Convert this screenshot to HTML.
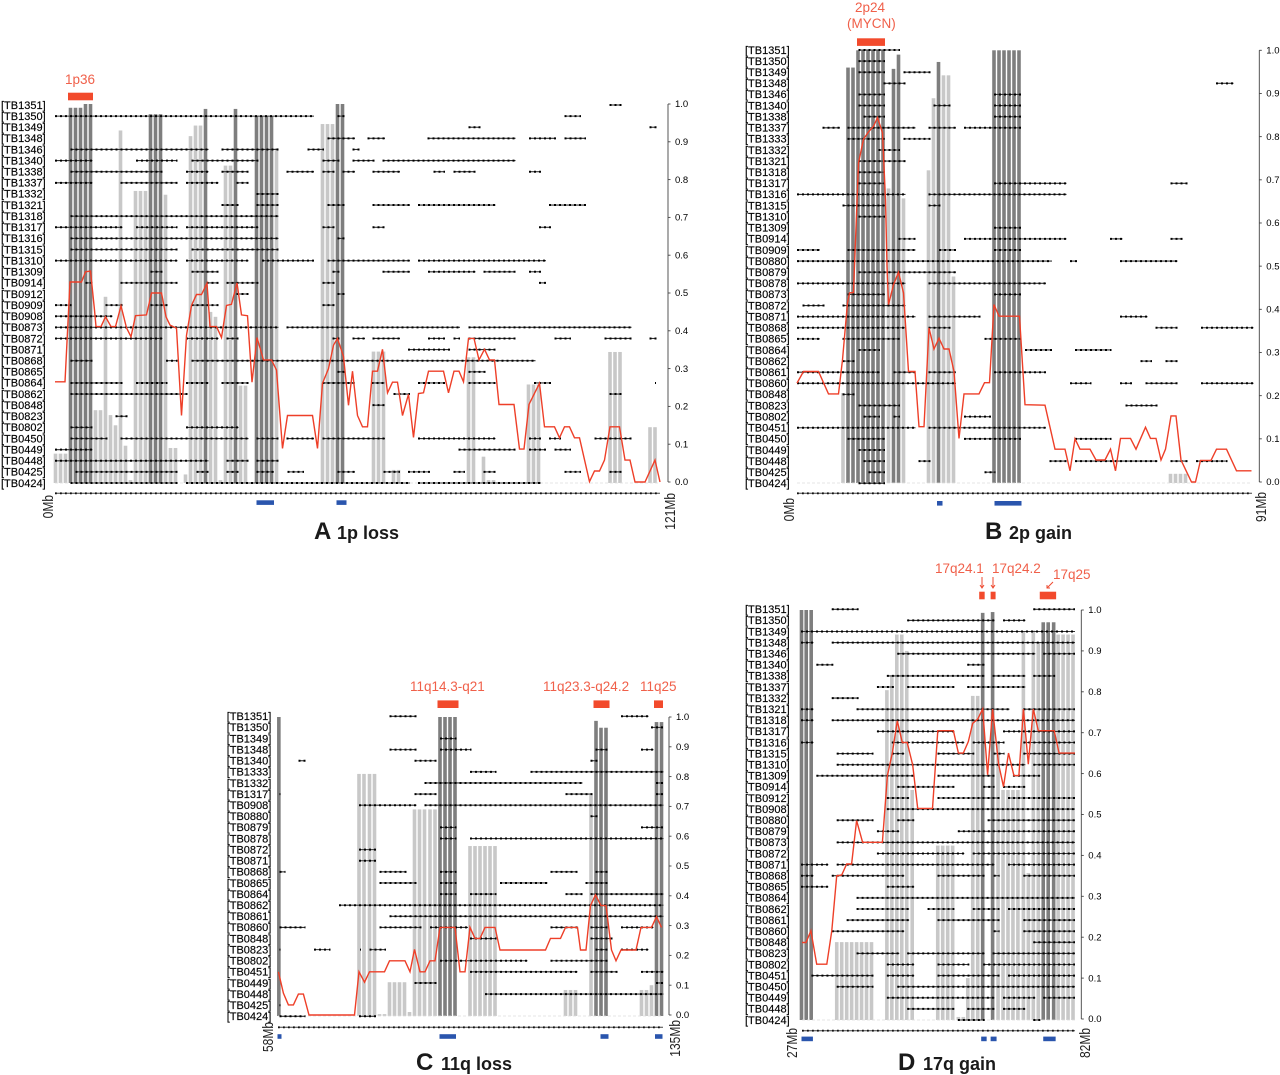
<!DOCTYPE html>
<html lang="en">
<head>
<meta charset="utf-8">
<title>Chromosome region frequency charts</title>
<style>
html,body{margin:0;padding:0;background:#fff;}
svg{display:block;font-family:"Liberation Sans",sans-serif;}
</style>
</head>
<body>
<svg id="figure" width="1280" height="1075" viewBox="0 0 1280 1075" xmlns="http://www.w3.org/2000/svg">
<rect width="1280" height="1075" fill="#fff"/>
<g fill="#1a1a1a" font-weight="bold">
<text x="314" y="539" font-size="24">A</text>
<text x="337" y="539" font-size="18">1p loss</text>
<text x="985" y="539" font-size="24">B</text>
<text x="1009" y="539" font-size="18">2p gain</text>
<text x="416" y="1070" font-size="24">C</text>
<text x="441" y="1070" font-size="18">11q loss</text>
<text x="898" y="1070" font-size="24">D</text>
<text x="923" y="1070" font-size="18">17q gain</text>
</g>
<g fill="#f0604a" font-size="13.5">
<text x="65" y="84">1p36</text>
<text x="855" y="12">2p24</text>
<text x="847" y="28">(MYCN)</text>
<text x="410" y="691">11q14.3-q21</text>
<text x="543" y="691">11q23.3-q24.2</text>
<text x="640" y="691">11q25</text>
<text x="935" y="573">17q24.1</text>
<text x="992" y="573">17q24.2</text>
<text x="1053" y="579">17q25</text>
</g>
<g stroke="#ee4a30" stroke-width="1" fill="none">
<path d="M982 577V588M980 585L982 588L984 585"/>
<path d="M993 577V588M991 585L993 588L995 585"/>
<path d="M1053 582L1047 588M1047 585L1047 588L1050 588"/>
</g>
<g id="plots"></g>
</svg>
<script>
/* ---------- Panel A: 1p loss ---------- */
const aSamples = ["TB1351","TB1350","TB1349","TB1348","TB1346","TB1340","TB1338","TB1337","TB1332","TB1321","TB1318","TB1317","TB1316","TB1315","TB1310","TB1309","TB0914","TB0912","TB0909","TB0908","TB0873","TB0872","TB0871","TB0868","TB0865","TB0864","TB0862","TB0848","TB0823","TB0802","TB0450","TB0449","TB0448","TB0425","TB0424"];
const aSpans = [
[110.9,113.3],
[0,51.8,56.5,57.9,101.9,105.2],
[82.7,85.1,118.9,120.3],
[54.5,60,62.5,66,74.5,92.1,94.8,100.2,101.9,106.2],
[3.1,30.7,33.3,44.7,50.5,53.8,59.5,60.9],
[0,7.5,16.2,24.5,27.3,40.7,53.5,56.9,59.5,63.9,65.5,92.1],
[3.1,21.5,26.2,30.7,33.3,38.7,46.3,51.8,53.5,55.9,57.5,60,63.5,69,75.7,78,79.7,84.1,94.8,97.2],
[0,7.5,13.1,24.5,26.2,32.7,36.3,38.7],
[40.3,44.7],
[33.3,36.7,40.3,44.7,54.5,57.9,63.5,71,72.6,88.1,98.8,106.2],
[3.1,44.7],
[0,13.5,16.2,24.5,26.2,40.7,53.5,55.9,63.5,65.9,96.8,99.2],
[3.1,44.7,56.5,57.9],
[3.1,24.5,27.3,44.7],
[0,24.5,26.2,38.7,41.4,51.8,54.5,71,72.6,98.2],
[19.1,21.5,27.3,32.7,55.5,56.9,65.5,71,74.6,84.1,85.7,92.1,94.8,97.2],
[6.1,7.5,13.1,24.5,30.3,32.7,34.3,40.7,53.5,55.9,96.8,98.2],
[36.3,38.7,56.5,57.9],
[0,3.3,10.1,13.5,19.1,22.5,27.3,32.7,53.5,55.9],
[0,11.5],
[0,44.7,46.3,81,82.7,115.3],
[0,21.5,26.2,32.7,34.3,36.7,55.5,56.9,59.5,62,63.5,69,74.6,78,79.7,81,82.7,92.1,99.9,103.2,109.9,115.3,118.9,120.3],
[70.6,79,82.7,88.1],
[3.1,7.5,22.2,24.5,27.3,96.1],
[56.5,57.9,82.7,86.1],
[3.1,13.5,16.2,22.5,26.2,30.7,33.3,38.7,53.5,60,63.3,65.9,72.6,78,82.7,88.1,95.8,99.2,120,120.2],
[3.1,26.5,67.7,71,110.9,113.3],
[63.5,65.9],
[12.1,14.5],
[3.1,7.5,26.2,36.7],
[3.1,10.5,13.1,38.7,40.3,44.7,46.3,51.8,53.5,66,72.6,88.1,94.8,97.2,98.8,101.2,107.9,115.3],
[0,7.5,80.7,92.1,94.8,98.2,99.9,103.2],
[0,30.7,34.3,38.7,40.3,44.7],
[4.1,24.5,28.3,30.7,34.3,36.7,40.3,43.8,46.5,49.8,56.5,60,65.7,69,70.6,75,79.7,82,85.7,88.1,101.9,105.2,110.9,113.3],
[3.1,24.5,26.2,71,72.6,97.2]
];
const aBarPos = [0.1,1.1,2.1,3.1,4.1,5.1,6.1,7.1,8.1,9.1,10.1,11.1,12.1,13.1,14.1,15.1,16.1,17.1,18.1,19.1,20.1,21.1,22.1,23.1,24.1,26.1,27.1,28.1,29.1,30.1,31.1,32.1,33.1,34.1,35.1,36.1,37.1,38.1,40.3,41.3,42.3,43.3,44.3,53.5,54.5,55.5,56.5,57.5,63.7,64.7,65.7,67.7,68.7,82.7,83.7,85.7,86.7,87.7,94.7,95.7,96.7,111,112,113,119,120];
const aBarVal = [0.075,0.075,0.075,0.99,0.99,0.99,1,1,0.19,0.19,0.49,0.177,0.15,0.93,0.096,0.005,0.77,0.77,0.77,0.973,0.973,0.973,0.76,0.09,0.09,0.02,0.915,0.943,0.943,0.987,0.45,0.437,0.005,0.837,0.837,0.987,0.255,0.255,0.968,0.968,0.968,0.968,0.883,0.947,0.947,0.947,1,1,0.345,0.345,0.345,0.032,0.032,0.33,0.33,0.067,0.005,0.005,0.258,0.258,0.258,0.344,0.344,0.344,0.145,0.145];
const aBarSig = [0,0,0,1,1,1,1,1,0,0,0,0,0,0,0,0,0,0,0,1,1,1,0,0,0,0,0,0,0,1,0,0,0,0,0,1,0,0,1,1,1,1,0,0,0,0,1,1,0,0,0,0,0,0,0,0,0,0,0,0,0,0,0,0,0,0];
const aLineMb = [0,2,3,5.3,6.1,7.1,7.9,8.2,9.2,10.1,11.2,12.1,13.2,14.3,15.2,16.1,18.3,19.3,21.3,22.2,23,24.3,25.3,26.3,27.3,28.3,29.3,30.4,31,32.3,33.3,34.3,35.3,36.4,37.3,38.5,39.4,40.4,41.7,43.3,44.3,45.5,46.5,51.5,52.5,53.5,54.7,55.7,56.5,57.7,58.7,59,59.5,60.5,61.5,62.5,63.5,64.5,65.5,66.5,67.5,68.5,69.5,70.7,71.7,72.7,73.7,74.7,77.7,78.7,79.8,80.8,81.7,82.7,83.8,84.8,85.9,86.9,87.9,88.8,91.8,92.9,93.8,94.8,96.9,97.9,99.9,100.9,101.9,102.9,103.9,104.9,106.9,107.9,108.9,109.9,111,112.9,114,115,116,118,120,121];
const aLineFreq = [0.265,0.265,0.529,0.529,0.556,0.558,0.455,0.411,0.411,0.437,0.411,0.411,0.466,0.408,0.384,0.44,0.442,0.5,0.5,0.437,0.415,0.407,0.176,0.388,0.467,0.496,0.496,0.526,0.411,0.411,0.382,0.467,0.47,0.527,0.442,0.44,0.264,0.382,0.323,0.323,0.296,0.089,0.176,0.176,0.089,0.261,0.3,0.362,0.38,0.332,0.203,0.238,0.293,0.176,0.146,0.146,0.293,0.293,0.351,0.236,0.264,0.264,0.176,0.232,0.118,0.234,0.236,0.293,0.293,0.236,0.293,0.293,0.265,0.38,0.38,0.323,0.351,0.323,0.323,0.205,0.205,0.087,0.087,0.205,0.261,0.146,0.146,0.117,0.146,0.146,0.117,0.117,0.001,0.029,0.029,0.058,0.146,0.146,0.058,0.058,0,0,0.058,0];
const aPeaks = [[2.6,7.6]];
const aSignificant = [[40.3,43.8],[56.3,58.3]];

/* ---------- Panel B: 2p gain ---------- */
const bSamples = ["TB1351","TB1350","TB1349","TB1348","TB1346","TB1340","TB1338","TB1337","TB1333","TB1332","TB1321","TB1318","TB1317","TB1316","TB1315","TB1310","TB1309","TB0914","TB0909","TB0880","TB0879","TB0878","TB0873","TB0872","TB0871","TB0868","TB0865","TB0864","TB0862","TB0861","TB0860","TB0848","TB0823","TB0802","TB0451","TB0450","TB0449","TB0448","TB0425","TB0424"];
const bSpans = [
[12.3,20.6],
[12.3,17.6],
[12.3,17.6,21.3,26.7],
[17.3,21.7,83.8,87.3],
[12.3,17.6,39.4,44.8],
[12.3,17.6,27.3,30.7,39.4,44.8],
[13.3,17.6,39.4,44.8],
[5.1,8.6,10.1,23.7,26.3,31.8,33.4,44.8],
[10.1,17.6,21.3,26.7],
[16.3,20.6],
[12.3,21.7],
[12.3,17.6],
[12.3,17.6,39.4,53.9,74.7,78.1],
[0,21.7,26.3,53.9],
[9.1,17.6,26.3,28.7],
[12.3,17.6],
[39.4,44.8],
[20.3,23.7,33.4,53.9,62.6,65.1,74.7,77.1],
[0,4.6,10.1,23.7,28.4,31.8,39.4,44.8],
[0,51,54.6,56,64.6,76.1],
[12.3,31.8],
[0,21.7,26.3,49.8],
[10.1,17.6,39.4,44.8],
[1.1,5.5,9.1,21.7],
[0,23.7,26.3,36.7,64.6,70.1],
[0,21.7,26.3,30.7,71.7,76.1,80.8,91.3],
[0,4.6,9.1,20.6,37.5,44.8],
[12.3,16.6,45.6,51,55.6,62.9],
[9.1,11.5,68.7,71,73.7,76.1],
[0,16.6,19.3,23.7,26.3,31.8,39.4,49.8],
[0,31.8,54.6,58.9,64.6,67,69.7,76.1,80.8,91.3],
[9.1,11.5],
[12.3,20.6,65.7,72.1],
[13.3,16.6,19.3,20.6,33.4,38.8],
[0,23.7,26.3,49.8],
[10.1,17.6,33.4,44.8,55.6,62.9],
[12.3,17.6],
[13.3,17.6,24.3,26.7,50.5,53.9,55.6,72.1,74.7,78.1,79.8,86.1],
[14.3,17.6,37.5,39.7],
[12.3,17.6]
];
const bBarPos = [9.2,10.2,11.2,12.2,13.2,14.2,15.2,16.2,17.2,18.3,19.3,20.3,21.3,26.3,27.3,28.3,29.3,30.3,31.3,39.4,40.4,41.4,42.4,43.4,44.4,74.7,75.7,76.7,77.7];
const bBarVal = [0.206,0.96,0.96,1,1,1,1,1,1,0.68,0.957,0.99,0.657,0.722,0.889,0.973,0.942,0.942,0.476,1,1,1,1,1,1,0.019,0.019,0.019,0.019];
const bBarSig = [0,1,1,1,1,1,1,1,1,0,1,1,0,0,0,1,0,0,0,1,1,1,1,1,1,0,0,0,0];
const bLineMb = [0,1.3,4.3,6.3,8.3,9.1,10.1,10.5,11.3,12.3,13.3,14.3,15.3,16.1,17.1,17.7,18,18.3,19.3,20.3,21.3,22.3,23.6,24.4,25.4,26.4,27.4,28.4,29.4,30.4,31.4,32.4,33.4,36.4,37.5,38.5,39.4,40.4,44.5,45.6,49.6,51.6,53.6,54.6,55.6,56.6,58.6,59.8,61.6,62.7,63.7,64.7,66.7,67.8,69.7,70.7,71.8,72.8,73.7,74.8,75.8,76.8,78.9,79.7,80.7,82.8,83.9,85.9,87.9,90.9];
const bLineFreq = [0.229,0.256,0.256,0.204,0.204,0.283,0.415,0.438,0.439,0.739,0.794,0.811,0.824,0.844,0.809,0.654,0.5,0.411,0.457,0.486,0.438,0.256,0.256,0.128,0.128,0.357,0.308,0.333,0.308,0.308,0.256,0.101,0.204,0.204,0.23,0.23,0.411,0.384,0.384,0.179,0.178,0.076,0.076,0.026,0.1,0.076,0.076,0.051,0.051,0.076,0.026,0.101,0.101,0.076,0.127,0.101,0.101,0.051,0.076,0.153,0.153,0.051,0,0,0.05,0.05,0.076,0.076,0.026,0.026];
const bPeaks = [[12,17.6]];
const bSignificant = [[28,29.1],[39.5,44.9]];

/* ---------- Panel C: 11q loss (positions in Mb from region start) ---------- */
const cSamples = ["TB1351","TB1350","TB1349","TB1348","TB1340","TB1333","TB1332","TB1317","TB0908","TB0880","TB0879","TB0878","TB0872","TB0871","TB0868","TB0865","TB0864","TB0862","TB0861","TB0860","TB0848","TB0823","TB0802","TB0451","TB0449","TB0448","TB0425","TB0424"];
const cSpans = [
[22.3,27.7,68.6,74.1],
[74.6,77],
[32.4,35.7],
[22.3,27.7,32.4,38.7,63.5,65.9,72.6,75.1],
[4.1,5.5,27.3,31.7,62.5,63.9],
[38.4,43.7,50.5,77.1],
[29.3,60.9,75.6,77],
[0.3,0.5,27.3,31.7,57.5,62.9,75.6,77],
[16.2,27.7,29.3,77.1],
[62.5,63.9],
[32.4,35.7,72.6,77],
[32.4,35.7,38.4,77.1],
[16.2,19.6],
[16.2,19.6],
[0.3,1.5,20.3,25.7,32.4,35.7,54.5,59.9,63.5,65.9],
[20.3,27.7,32.4,35.7,44.4,53.9,61.5,65.9],
[32.4,35.7,38.4,43.7,57.5,60.9,62.5,77.1],
[12.2,77.1],
[22.3,77.1],
[0.3,5.5,20.3,28.7,30.4,38,54.5,59.9,62.5,65.9,68.6,75.1],
[38.4,43.7,62.5,66.9],
[0.3,0.5,7.2,10.5,16.4,16.6,18.3,21.6,63.5,65.9,68.6,74.1],
[32.4,49.9,54.5,65.9],
[38.4,59.9,62.5,67.9,72.6,77.1],
[27.3,31.7,75.6,77],
[41.4,77.1],
[0.3,0.5],
[0.3,5.5,16.2,19.6]
];
const cBarPos = [0.17,16.2,17.2,18.3,19.3,20.3,21.3,22.3,23.3,24.3,25.3,26.3,27.3,28.3,29.3,30.4,31.4,32.4,33.4,34.4,35.4,38.4,39.4,40.4,41.4,42.4,43.4,57.5,58.5,59.5,62.6,63.6,64.6,65.6,72.7,73.7,74.7,75.7,76.7];
const cBarVal = [1,0.809,0.809,0.809,0.809,0.003,0.003,0.11,0.11,0.11,0.11,0.01,0.69,0.69,0.69,0.69,0.69,1,1,1,1,0.567,0.567,0.567,0.567,0.567,0.567,0.084,0.084,0.084,0.738,0.987,0.964,0.964,0.084,0.084,0.1,0.983,0.983];
const cBarSig = [1,0,0,0,0,0,0,0,0,0,0,0,0,0,0,0,0,1,1,1,1,0,0,0,0,0,0,0,0,0,0,1,1,1,0,0,0,1,1];
const cLineMb = [0.07,1.07,2.07,3.07,4.07,5.07,6.2,15.3,16.2,17.3,18.3,21.3,22.3,25.4,26.4,27.3,28.4,29.4,30.4,31.4,32.4,35.4,36.4,37.4,38.4,39.4,40.4,41.4,43.4,44.4,53.5,54.5,56.5,57.5,59.9,60.5,61.6,62.5,63.5,64.6,65.6,66.7,67.6,68.6,71.6,72.6,74.7,75.7,76.7];
const cLineFreq = [0.145,0.073,0.034,0.034,0.07,0.07,0,0,0.145,0.11,0.145,0.145,0.182,0.182,0.145,0.22,0.145,0.145,0.182,0.182,0.294,0.294,0.145,0.145,0.294,0.257,0.257,0.294,0.294,0.218,0.218,0.257,0.257,0.294,0.294,0.218,0.218,0.367,0.403,0.367,0.367,0.218,0.182,0.218,0.218,0.294,0.294,0.33,0.294];
const cPeaks = [[31.9,36.1],[63.1,66.3],[75.2,77]];
const cSignificant = [[-0.1,0.7],[32.3,35.6],[64.5,66.1],[75.4,76.9]];

/* ---------- Panel D: 17q gain (positions in Mb from region start) ---------- */
const dSamples = ["TB1351","TB1350","TB1349","TB1348","TB1346","TB1340","TB1338","TB1337","TB1332","TB1321","TB1318","TB1317","TB1316","TB1315","TB1310","TB1309","TB0914","TB0912","TB0908","TB0880","TB0879","TB0873","TB0872","TB0871","TB0868","TB0865","TB0864","TB0862","TB0861","TB0860","TB0848","TB0823","TB0802","TB0451","TB0450","TB0449","TB0448","TB0424"];
const dSpans = [
[6,11.4,46.6,55],
[21.2,38.8,40.5,45],
[-0.2,55],
[-0.2,2.3,6,55],
[19.2,47,48.6,55],
[2.9,6.3,33.3,36.8],
[17.1,36.8,38.4,45,46.6,51],
[15.1,18.5,21.2,30.7,33.3,45],
[6,11.4],
[-0.2,2.3,11,41.8,44.6,55],
[-0.2,2.3,6,55],
[15.1,30.7,40.5,55],
[-0.2,2.3,18.1,21.8,22.1,32.7,34.4,40.8,44.6,55],
[7,14.4,18.1,20.6,27.3,34.7,38.6,40.8,44.6,55],
[7,45,46.6,55],
[2.9,22.6,27.3,38.8,42.5,48],
[19.2,30.7,36.5,38.8,40.5,45],
[17.1,21.6,27.3,39.8,41.5,55],
[17.1,55],
[7,14.4,19.2,22.6,37.4,55],
[15.1,19.6,31.4,55],
[7,55],
[15.1,32.7,34.4,55],
[-0.2,5.3,7,38.8,41.5,55],
[-0.2,2.3,6,20.6,27.3,36.8,38.6,39.8,44.6,55],
[-0.2,5.3,17.1,22.6],
[11,55],
[11,21.6,25.3,30.7,34.4,39.8,41.5,55],
[9,21.6,27.3,39.8,44.6,55],
[6,20.6,38.6,39.8,44.6,55],
[46.6,55],
[11,19.6,21.2,36.8,38.4,55],
[17.1,22.6,27.3,33.7,36.5,55],
[1.9,14.4,17.1,22.6,27.3,39.8,41.5,55],
[7,14.4,19.2,55],
[17.1,38.8,40.5,47,48.6,55],
[21.2,30.7,33.3,38.8,40.5,45],
[31.4,36.8,46.6,48]
];
const dBarPos = [-0.1,0.85,1.85,7,8,9,10,11,12,13,14,17.1,18.1,19.1,20.1,21.1,22.2,27.35,28.35,29.35,30.35,31.5,32.5,33.4,34.4,35.4,36.4,38.4,39.5,40.5,41.5,42.5,43.5,44.6,45.6,46.6,47.6,48.6,49.6,50.7,51.6,52.6,53.6,54.6];
const dBarVal = [1,1,1,0.188,0.188,0.188,0.188,0.188,0.188,0.188,0.188,0.804,0.837,0.94,0.94,0.9,0.56,0.424,0.424,0.424,0.424,0.005,0.005,0.1,0.79,0.79,0.993,0.995,0.68,0.56,0.56,0.56,0.56,0.947,0.357,0.95,0.92,0.97,0.97,0.97,0.94,0.94,0.94,0.94];
const dBarSig = [1,1,1,0,0,0,0,0,0,0,0,0,0,0,0,0,0,0,0,0,0,0,0,0,0,0,1,1,0,0,0,0,0,0,0,0,0,1,1,1,0,0,0,0];
const dLineMb = [0,0.8,1.8,2.96,5,6,7,8,9,10,11,12.2,16.2,17.2,18.2,19.2,20.2,21.2,22.3,23.3,26.3,27.35,30.5,31.5,32.5,33.5,34.4,35.4,36.4,37.4,38.4,39.6,40.6,41.6,42.7,43.7,44.6,45.6,46.6,47.6,50.8,51.8,55];
const dLineFreq = [0.187,0.187,0.216,0.134,0.134,0.216,0.35,0.352,0.379,0.379,0.485,0.432,0.432,0.595,0.65,0.729,0.676,0.676,0.621,0.515,0.515,0.705,0.705,0.65,0.65,0.678,0.723,0.733,0.758,0.597,0.758,0.623,0.568,0.65,0.595,0.595,0.758,0.623,0.758,0.705,0.705,0.65,0.65];
const dPeaks = [[35.7,36.8],[38,39],[47.9,51.2]];
const dSignificant = [[-0.1,2.2],[36.1,37.2],[38,39.2],[48.6,51.1]];

/* ---------- Shared axis values ---------- */
const freqTicks = [1,0.9,0.8,0.7,0.6,0.5,0.4,0.3,0.2,0.1,0];
const tickLabels = ["1.0","0.9","0.8","0.7","0.6","0.5","0.4","0.3","0.2","0.1","0.0"];

const NS = "http://www.w3.org/2000/svg";
function mk(tag, parent) {
  const node = document.createElementNS(NS, tag);
  parent.appendChild(node);
  return node;
}

function drawPanel(p) {
  const root = document.getElementById("plots");
  const g = mk("g", root);
  
  

  const x = function (mb) { return p.left + (mb / p.span) * (p.right - p.left); };
  const y = function (v) { return p.y0 - v * (p.y0 - p.y1); };
  const rowY = function (i) { return p.rowTop + i * (p.rowBottom - p.rowTop) / (p.samples.length - 1); };

  /* frequency bars */
  p.barPos.forEach(function (pos, i) {
    const bar = mk("rect", g);
    
    
    bar.setAttribute("x", x(pos) - 1.8);
    bar.setAttribute("width", 3.6);
    bar.setAttribute("y", y(p.barVal[i]));
    bar.setAttribute("height", Math.max(0.3, y(0) - y(p.barVal[i]) + 1));
    bar.setAttribute("fill", p.barSig[i] ? "#7e7e7e" : "#c8c8c8");
  });

  /* baseline */
  const base = mk("line", g);
  
  
  base.setAttribute("x1", x(0));
  base.setAttribute("x2", x(p.span));
  base.setAttribute("y1", y(0) + 1);
  base.setAttribute("y2", y(0) + 1);
  base.setAttribute("stroke", "#ddd");
  base.setAttribute("stroke-width", "0.8");
  base.setAttribute("stroke-dasharray", "3 2");

  /* sample labels and segments */
  p.samples.forEach(function (name, i) {
    const label = mk("text", g);
    
    
    label.setAttribute("x", p.labelX);
    label.setAttribute("y", rowY(i) + 3.8);
    label.setAttribute("font-size", "11");
    label.setAttribute("fill", "#000");
    label.setAttribute("stroke", "#000");
    label.setAttribute("stroke-width", "0.15");
    label.textContent = "[" + name + "]";

    const spans = p.spans[i];
    for (let k = 0; k < spans.length; k += 2) {
      const a = x(spans[k]), b = x(spans[k + 1]);
      const seg = mk("line", g);
      
      
      seg.setAttribute("x1", a);
      seg.setAttribute("x2", b);
      seg.setAttribute("y1", rowY(i));
      seg.setAttribute("y2", rowY(i));
      seg.setAttribute("stroke", "#333");
      seg.setAttribute("stroke-width", "1.1");
      const dots = mk("line", g);
      
      
      dots.setAttribute("x1", a);
      dots.setAttribute("x2", b);
      dots.setAttribute("y1", rowY(i));
      dots.setAttribute("y2", rowY(i));
      dots.setAttribute("stroke", "#000");
      dots.setAttribute("stroke-width", "2");
      dots.setAttribute("stroke-dasharray", "2 3");
    }
  });

  /* frequency line */
  const line = mk("polyline", g);
  
  
  line.setAttribute("points", p.lineMb.map(function (m, i) { return x(m).toFixed(1) + "," + y(p.lineFreq[i]).toFixed(1); }).join(" "));
  line.setAttribute("fill", "none");
  line.setAttribute("stroke", "#ee3f28");
  line.setAttribute("stroke-width", "1.4");

  /* marker track */
  const track = mk("line", g);
  
  
  track.setAttribute("x1", x(0));
  track.setAttribute("x2", x(p.span));
  track.setAttribute("y1", p.trackY);
  track.setAttribute("y2", p.trackY);
  track.setAttribute("stroke", "#444");
  track.setAttribute("stroke-width", "1");
  const trackDots = mk("line", g);
  
  
  trackDots.setAttribute("x1", x(0));
  trackDots.setAttribute("x2", x(p.span));
  trackDots.setAttribute("y1", p.trackY);
  trackDots.setAttribute("y2", p.trackY);
  trackDots.setAttribute("stroke", "#111");
  trackDots.setAttribute("stroke-width", "1.8");
  trackDots.setAttribute("stroke-dasharray", "1.8 3.2");

  /* significant regions (blue) */
  p.significant.forEach(function (r) {
    const blue = mk("rect", g);
    
    
    blue.setAttribute("x", x(r[0]));
    blue.setAttribute("width", x(r[1]) - x(r[0]));
    blue.setAttribute("y", p.blueY);
    blue.setAttribute("height", 4.6);
    blue.setAttribute("fill", "#2a55ad");
  });

  /* peak regions (red) */
  p.peaks.forEach(function (r) {
    const red = mk("rect", g);
    
    
    red.setAttribute("x", x(r[0]));
    red.setAttribute("width", x(r[1]) - x(r[0]));
    red.setAttribute("y", p.redY);
    red.setAttribute("height", 7.6);
    red.setAttribute("fill", "#f24a2c");
  });

  /* frequency axis */
  const axis = mk("line", g);
  
  
  axis.setAttribute("x1", p.axisX);
  axis.setAttribute("x2", p.axisX);
  axis.setAttribute("y1", y(1));
  axis.setAttribute("y2", y(0));
  axis.setAttribute("stroke", "#444");
  axis.setAttribute("stroke-width", "0.9");
  freqTicks.forEach(function (t, i) {
    const tick = mk("line", g);
    
    
    tick.setAttribute("x1", p.axisX);
    tick.setAttribute("x2", p.axisX + 2.5);
    tick.setAttribute("y1", y(t));
    tick.setAttribute("y2", y(t));
    tick.setAttribute("stroke", "#444");
    tick.setAttribute("stroke-width", "0.9");
    const text = mk("text", g);
    
    
    text.setAttribute("x", p.axisX + 7);
    text.setAttribute("y", y(t) + 3.2);
    text.setAttribute("font-size", "9.5");
    text.setAttribute("fill", "#000");
    text.textContent = tickLabels[i];
  });

  /* rotated range labels */
  [p.startLabel, p.endLabel].forEach(function (lab) {
    const t = mk("text", g);
    
    
    t.setAttribute("transform", "translate(" + lab[1] + " " + lab[2] + ") rotate(-90) scale(0.8 1)");
    t.setAttribute("text-anchor", "end");
    t.setAttribute("font-size", "15");
    t.setAttribute("fill", "#222");
    t.textContent = lab[0];
  });
}

drawPanel({id:"panel-a",samples:aSamples,spans:aSpans,barPos:aBarPos,barVal:aBarVal,barSig:aBarSig,lineMb:aLineMb,lineFreq:aLineFreq,peaks:aPeaks,significant:aSignificant,left:55,right:660,span:121,y0:482,y1:104,rowTop:105,rowBottom:483,labelX:1,axisX:668,trackY:493.3,blueY:500.3,redY:92.7,startLabel:["0Mb",53,495],endLabel:["121Mb",675,493]});
drawPanel({id:"panel-b",samples:bSamples,spans:bSpans,barPos:bBarPos,barVal:bBarVal,barSig:bBarSig,lineMb:bLineMb,lineFreq:bLineFreq,peaks:bPeaks,significant:bSignificant,left:797,right:1252,span:91,y0:482,y1:50.3,rowTop:50,rowBottom:483.3,labelX:745,axisX:1259.3,trackY:493.3,blueY:501,redY:38.3,startLabel:["0Mb",794,498],endLabel:["91Mb",1266,492]});
drawPanel({id:"panel-c",samples:cSamples,spans:cSpans,barPos:cBarPos,barVal:cBarVal,barSig:cBarSig,lineMb:cLineMb,lineFreq:cLineFreq,peaks:cPeaks,significant:cSignificant,left:278,right:663,span:77,y0:1015,y1:717,rowTop:716.3,rowBottom:1016.3,labelX:226.7,axisX:669,trackY:1027.3,blueY:1034.2,redY:700.4,startLabel:["58Mb",273,1022],endLabel:["135Mb",680,1020]});
drawPanel({id:"panel-d",samples:dSamples,spans:dSpans,barPos:dBarPos,barVal:dBarVal,barSig:dBarSig,lineMb:dLineMb,lineFreq:dLineFreq,peaks:dPeaks,significant:dSignificant,left:802,right:1075,span:55,y0:1019,y1:610,rowTop:609.3,rowBottom:1020,labelX:745,axisX:1081.3,trackY:1030.7,blueY:1036.6,redY:591.7,startLabel:["27Mb",797,1028],endLabel:["82Mb",1090,1028]});
</script>
</body>
</html>
